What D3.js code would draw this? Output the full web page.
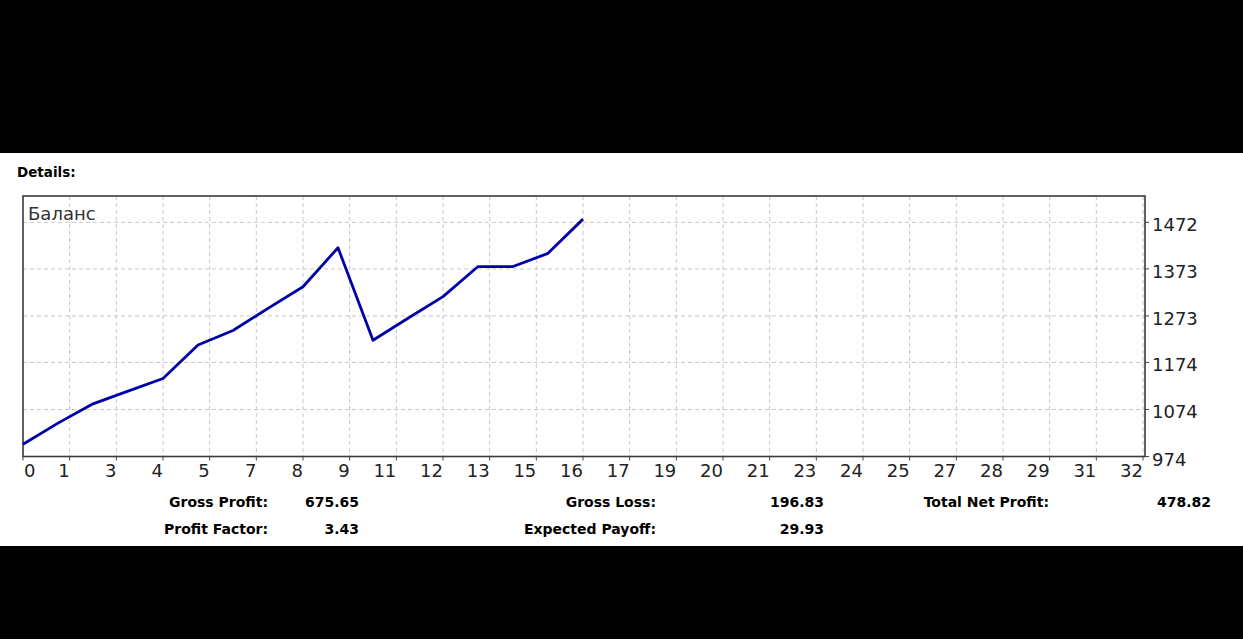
<!DOCTYPE html>
<html>
<head>
<meta charset="utf-8">
<script src="https://cdn.jsdelivr.net/npm/d3@7"></script>
<style>
  body { margin: 0; background: #000; }
  svg { display: block; }
</style>
</head>
<body>
<div id="cont"></div>
<script>
// balance after each trade (trade 0 = initial deposit)
var trades   = [0, 1, 2, 3, 4, 5, 6, 7, 8, 9, 10, 11, 12, 13, 14, 15, 16];
var balance  = [1000, 1045, 1086, 1113, 1140, 1211, 1242, 1289, 1335, 1418, 1221.2, 1268, 1314, 1378, 1378, 1406, 1478.82];
var xTickLabels = [0, 1, 3, 4, 5, 7, 8, 9, 11, 12, 13, 15, 16, 17, 19, 20, 21, 23, 24, 25, 27, 28, 29, 31, 32];
var yTickLabels = [974, 1074, 1174, 1273, 1373, 1472];
var statsRow1 = [["Gross Profit:", "675.65"], ["Gross Loss:", "196.83"], ["Total Net Profit:", "478.82"]];
var statsRow2 = [["Profit Factor:", "3.43"], ["Expected Payoff:", "29.93"]];

var W = 1243, H = 639;
var plot = {left: 23, right: 1145, top: 196, bottom: 456.5};

var svg = d3.select("#cont").append("svg")
    .attr("width", W)
    .attr("height", H);

// white report band
svg.append("rect")
    .attr("x", 0).attr("y", 153)
    .attr("width", W).attr("height", 393)
    .attr("fill", "#fff");

svg.append("text")
    .attr("x", 17).attr("y", 177)
    .style("font-family", "DejaVu Sans")
    .style("font-weight", "bold")
    .style("font-size", "13.5px")
    .text("Details:");

// scales
var x = d3.scaleLinear().domain([0, 32]).range([23, 1143]);
var y = d3.scaleLinear().domain([974, 1528]).range([plot.bottom, plot.top]);
var xTickPos = xTickLabels.map(function(d, i) { return i * 32 / 24; });

var g = svg.append("g");

// grid
g.selectAll("line.vgrid")
    .data(xTickPos.slice(1))
  .enter().append("line")
    .attr("class", "vgrid")
    .attr("x1", function(d) { return x(d); })
    .attr("x2", function(d) { return x(d); })
    .attr("y1", plot.top).attr("y2", plot.bottom)
    .style("stroke", "#c8c8c8")
    .style("stroke-dasharray", "4,3");

g.selectAll("line.hgrid")
    .data(yTickLabels.slice(1))
  .enter().append("line")
    .attr("class", "hgrid")
    .attr("x1", plot.left).attr("x2", plot.right)
    .attr("y1", function(d) { return y(d); })
    .attr("y2", function(d) { return y(d); })
    .style("stroke", "#c8c8c8")
    .style("stroke-dasharray", "4,3");

// frame
g.append("rect")
    .attr("x", plot.left).attr("y", plot.top)
    .attr("width", plot.right - plot.left)
    .attr("height", plot.bottom - plot.top)
    .style("fill", "none")
    .style("stroke", "#3a3a3a")
    .style("stroke-width", 1.6);

// x axis ticks + labels
g.selectAll("line.xtick")
    .data(xTickPos)
  .enter().append("line")
    .attr("x1", function(d) { return x(d); })
    .attr("x2", function(d) { return x(d); })
    .attr("y1", plot.bottom).attr("y2", plot.bottom + 4)
    .style("stroke", "#444");

g.selectAll("text.xlab")
    .data(xTickLabels)
  .enter().append("text")
    .attr("class", "xlab")
    .attr("x", function(d, i) { return i === 0 ? x(xTickPos[i]) + 1 : x(xTickPos[i]); })
    .attr("y", 477)
    .attr("text-anchor", function(d, i) { return i === 0 ? "start" : "end"; })
    .style("font-family", "DejaVu Sans")
    .style("font-size", "18px")
    .style("fill", "#222")
    .text(function(d) { return d; });

// y axis ticks + labels (right side)
g.selectAll("line.ytick")
    .data(yTickLabels)
  .enter().append("line")
    .attr("x1", plot.right).attr("x2", plot.right + 4)
    .attr("y1", function(d) { return y(d); })
    .attr("y2", function(d) { return y(d); })
    .style("stroke", "#444");

g.selectAll("text.ylab")
    .data(yTickLabels)
  .enter().append("text")
    .attr("x", 1152)
    .attr("y", function(d) { return y(d) + 9; })
    .style("font-family", "DejaVu Sans")
    .style("font-size", "18px")
    .style("fill", "#222")
    .text(function(d) { return d; });

g.append("text")
    .attr("x", 28).attr("y", 220)
    .style("font-family", "DejaVu Sans")
    .style("font-size", "18px")
    .style("fill", "#333")
    .text("Баланс");

// balance line
var valueline = d3.line()
    .x(function(d, i) { return x(trades[i]); })
    .y(function(d) { return y(d); });

g.append("path")
    .datum(balance)
    .attr("d", valueline)
    .style("fill", "none")
    .style("stroke", "#0000a8")
    .style("stroke-width", 2.8)
    .style("stroke-linejoin", "round");

// stats
var labelRight = [268, 656, 1049], valueRight = [359, 824, 1211];
function statsRow(rows, yy) {
  rows.forEach(function(r, i) {
    svg.append("text")
        .attr("x", labelRight[i]).attr("y", yy)
        .attr("text-anchor", "end")
        .style("font-family", "DejaVu Sans")
        .style("font-weight", "bold")
        .style("font-size", "14px")
        .text(r[0]);
    svg.append("text")
        .attr("x", valueRight[i]).attr("y", yy)
        .attr("text-anchor", "end")
        .style("font-family", "DejaVu Sans")
        .style("font-weight", "bold")
        .style("font-size", "14px")
        .text(r[1]);
  });
}
statsRow(statsRow1, 507);
statsRow(statsRow2, 534);
</script>
</body>
</html>
